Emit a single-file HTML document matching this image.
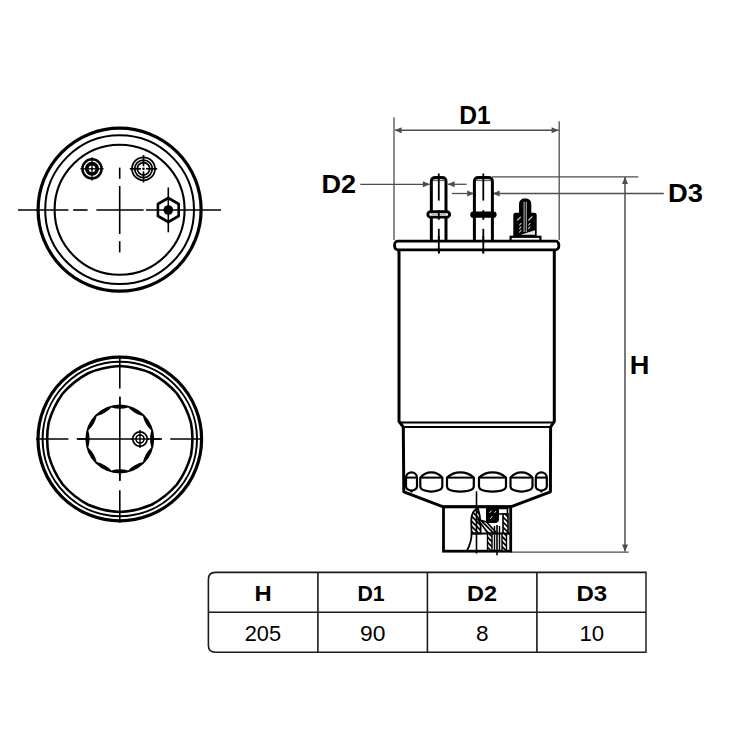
<!DOCTYPE html>
<html><head><meta charset="utf-8"><style>
html,body{margin:0;padding:0;background:#fff;}
svg{display:block;font-family:"Liberation Sans",sans-serif;}
</style></head><body>
<svg width="750" height="750" viewBox="0 0 750 750">
<rect width="750" height="750" fill="#fff"/>
<circle cx="119.60" cy="209.70" r="81.50" stroke="#000" stroke-width="3.2" fill="none"/>
<circle cx="119.60" cy="209.70" r="74.40" stroke="#000" stroke-width="2.0" fill="none"/>
<circle cx="119.60" cy="209.70" r="65.00" stroke="#000" stroke-width="2.1" fill="none"/>
<line x1="18.00" y1="210.00" x2="68.40" y2="210.00" stroke="#000" stroke-width="1.6" stroke-linecap="butt"/>
<line x1="73.20" y1="210.00" x2="87.60" y2="210.00" stroke="#000" stroke-width="1.6" stroke-linecap="butt"/>
<line x1="96.40" y1="210.00" x2="143.60" y2="210.00" stroke="#000" stroke-width="1.6" stroke-linecap="butt"/>
<line x1="146.00" y1="210.00" x2="221.00" y2="210.00" stroke="#000" stroke-width="1.6" stroke-linecap="butt"/>
<line x1="119.70" y1="167.60" x2="119.70" y2="178.80" stroke="#000" stroke-width="1.6" stroke-linecap="butt"/>
<line x1="119.70" y1="186.00" x2="119.70" y2="234.00" stroke="#000" stroke-width="1.6" stroke-linecap="butt"/>
<line x1="119.70" y1="241.20" x2="119.70" y2="252.40" stroke="#000" stroke-width="1.6" stroke-linecap="butt"/>
<circle cx="92.00" cy="168.80" r="9.60" stroke="#000" stroke-width="2.5" fill="none"/>
<circle cx="92.00" cy="168.80" r="5.20" stroke="#000" stroke-width="3.6" fill="none"/>
<circle cx="92.00" cy="168.80" r="1.10" fill="#000"/>
<line x1="92.00" y1="157.20" x2="92.00" y2="180.40" stroke="#000" stroke-width="1.3" stroke-linecap="butt"/>
<line x1="80.40" y1="168.80" x2="103.60" y2="168.80" stroke="#000" stroke-width="1.3" stroke-linecap="butt"/>
<circle cx="92.00" cy="168.80" r="1.10" fill="#000"/>
<circle cx="143.50" cy="168.80" r="11.50" stroke="#000" stroke-width="1.75" fill="none"/>
<circle cx="143.50" cy="168.80" r="8.80" stroke="#000" stroke-width="1.75" fill="none"/>
<circle cx="143.50" cy="168.80" r="6.20" stroke="#000" stroke-width="1.75" fill="none"/>
<circle cx="143.50" cy="168.80" r="1.30" fill="#000"/>
<line x1="143.50" y1="171.40" x2="143.50" y2="182.50" stroke="#000" stroke-width="1.7" stroke-linecap="butt"/>
<line x1="146.10" y1="168.80" x2="157.20" y2="168.80" stroke="#000" stroke-width="1.7" stroke-linecap="butt"/>
<line x1="143.50" y1="166.20" x2="143.50" y2="155.10" stroke="#000" stroke-width="1.7" stroke-linecap="butt"/>
<line x1="140.90" y1="168.80" x2="129.80" y2="168.80" stroke="#000" stroke-width="1.7" stroke-linecap="butt"/>
<path d="M168.30,198.00 L157.91,204.00 L157.91,216.00 L168.30,222.00 L178.69,216.00 L178.69,204.00 Z" stroke="#000" stroke-width="2.6" fill="none" stroke-linejoin="round"/>
<circle cx="168.30" cy="210.00" r="4.80" fill="#000"/>
<line x1="168.30" y1="187.50" x2="168.30" y2="232.30" stroke="#000" stroke-width="1.6" stroke-linecap="butt"/>
<circle cx="119.80" cy="439.00" r="81.80" stroke="#000" stroke-width="3.2" fill="none"/>
<circle cx="119.80" cy="439.00" r="77.20" stroke="#000" stroke-width="2.0" fill="none"/>
<path d="M119.80,366.00 A90,90 0 0 1 151.47,373.23 A90,90 0 0 1 176.87,393.49 A90,90 0 0 1 190.97,422.76 A90,90 0 0 1 190.97,455.24 A90,90 0 0 1 176.87,484.51 A90,90 0 0 1 151.47,504.77 A90,90 0 0 1 119.80,512.00 A90,90 0 0 1 88.13,504.77 A90,90 0 0 1 62.73,484.51 A90,90 0 0 1 48.63,455.24 A90,90 0 0 1 48.63,422.76 A90,90 0 0 1 62.73,393.49 A90,90 0 0 1 88.13,373.23 A90,90 0 0 1 119.80,366.00 Z" stroke="#000" stroke-width="2.6" fill="none" />
<line x1="36.00" y1="439.00" x2="68.40" y2="439.00" stroke="#000" stroke-width="1.6" stroke-linecap="butt"/>
<line x1="76.80" y1="439.00" x2="160.70" y2="439.00" stroke="#000" stroke-width="1.6" stroke-linecap="butt"/>
<line x1="170.30" y1="439.00" x2="202.70" y2="439.00" stroke="#000" stroke-width="1.6" stroke-linecap="butt"/>
<line x1="119.80" y1="357.00" x2="119.80" y2="388.40" stroke="#000" stroke-width="1.6" stroke-linecap="butt"/>
<line x1="119.80" y1="396.80" x2="119.80" y2="480.70" stroke="#000" stroke-width="1.6" stroke-linecap="butt"/>
<line x1="119.80" y1="490.30" x2="119.80" y2="522.70" stroke="#000" stroke-width="1.6" stroke-linecap="butt"/>
<circle cx="119.8" cy="439.0" r="34.4" fill="#000"/>
<path d="M128.24,407.51 A30,30 0 0 0 142.85,415.95 A30,30 0 0 0 151.29,430.56 A30,30 0 0 0 151.29,447.44 A30,30 0 0 0 142.85,462.05 A30,30 0 0 0 128.24,470.49 A30,30 0 0 0 111.36,470.49 A30,30 0 0 0 96.75,462.05 A30,30 0 0 0 88.31,447.44 A30,30 0 0 0 88.31,430.56 A30,30 0 0 0 96.75,415.95 A30,30 0 0 0 111.36,407.51 A30,30 0 0 0 128.24,407.51 Z" fill="#fff"/>
<line x1="77.30" y1="439.00" x2="162.00" y2="439.00" stroke="#000" stroke-width="1.6" stroke-linecap="butt"/>
<line x1="119.80" y1="396.80" x2="119.80" y2="480.70" stroke="#000" stroke-width="1.6" stroke-linecap="butt"/>
<circle cx="140" cy="439" r="7.6" fill="#fff"/>
<circle cx="140.00" cy="439.00" r="7.20" stroke="#000" stroke-width="1.7" fill="none"/>
<circle cx="140.00" cy="439.00" r="4.00" stroke="#000" stroke-width="1.6" fill="none"/>
<line x1="140.00" y1="430.00" x2="140.00" y2="448.00" stroke="#000" stroke-width="1.4" stroke-linecap="butt"/>
<line x1="131.00" y1="439.00" x2="149.00" y2="439.00" stroke="#000" stroke-width="1.4" stroke-linecap="butt"/>
<line x1="394.00" y1="117.20" x2="394.00" y2="240.00" stroke="#4d4d4d" stroke-width="1.3" stroke-linecap="butt"/>
<line x1="559.20" y1="121.20" x2="559.20" y2="240.00" stroke="#4d4d4d" stroke-width="1.3" stroke-linecap="butt"/>
<line x1="395.00" y1="130.20" x2="558.50" y2="130.20" stroke="#4d4d4d" stroke-width="1.4" stroke-linecap="butt"/>
<path d="M394.60,130.20 L401.60,127.20 L401.60,133.20 Z" fill="#4d4d4d"/>
<path d="M558.60,130.20 L551.60,133.20 L551.60,127.20 Z" fill="#4d4d4d"/>
<line x1="360.30" y1="184.30" x2="430.00" y2="184.30" stroke="#4d4d4d" stroke-width="1.3" stroke-linecap="butt"/>
<path d="M429.90,184.30 L422.90,187.30 L422.90,181.30 Z" fill="#4d4d4d"/>
<line x1="448.00" y1="184.30" x2="466.60" y2="184.30" stroke="#4d4d4d" stroke-width="1.3" stroke-linecap="butt"/>
<path d="M447.60,184.30 L454.60,181.30 L454.60,187.30 Z" fill="#4d4d4d"/>
<line x1="451.80" y1="193.50" x2="474.00" y2="193.50" stroke="#4d4d4d" stroke-width="1.3" stroke-linecap="butt"/>
<path d="M474.20,193.50 L467.20,196.50 L467.20,190.50 Z" fill="#4d4d4d"/>
<line x1="493.00" y1="193.50" x2="663.80" y2="193.50" stroke="#4d4d4d" stroke-width="1.3" stroke-linecap="butt"/>
<path d="M492.60,193.50 L499.60,190.50 L499.60,196.50 Z" fill="#4d4d4d"/>
<line x1="492.00" y1="176.80" x2="638.30" y2="176.80" stroke="#4d4d4d" stroke-width="1.3" stroke-linecap="butt"/>
<line x1="625.00" y1="177.00" x2="625.00" y2="551.50" stroke="#4d4d4d" stroke-width="1.5" stroke-linecap="butt"/>
<path d="M625.00,176.90 L628.00,183.90 L622.00,183.90 Z" fill="#4d4d4d"/>
<path d="M625.00,551.60 L622.00,544.60 L628.00,544.60 Z" fill="#4d4d4d"/>
<line x1="510.70" y1="552.10" x2="628.70" y2="552.10" stroke="#4d4d4d" stroke-width="1.4" stroke-linecap="butt"/>
<path d="M431.35,241 L431.35,181.7 Q431.35,177.5 435.55,177.5 L441.8,177.5 Q446.0,177.5 446.0,181.7 L446.0,241" stroke="#000" stroke-width="3.0" fill="none" />
<path d="M474.4,241 L474.4,181.7 Q474.4,177.5 478.59999999999997,177.5 L488.2,177.5 Q492.4,177.5 492.4,181.7 L492.4,241" stroke="#000" stroke-width="3.0" fill="none" />
<line x1="432.80" y1="180.40" x2="444.60" y2="180.40" stroke="#666" stroke-width="1.5" stroke-linecap="butt"/>
<line x1="476.00" y1="180.40" x2="490.80" y2="180.40" stroke="#666" stroke-width="1.5" stroke-linecap="butt"/>
<rect x="427.8" y="211.7" width="21.8" height="5.4" rx="2.7" fill="#fff" stroke="#000" stroke-width="2.9"/>
<line x1="431.35" y1="214.40" x2="446.00" y2="214.40" stroke="#bbb" stroke-width="1.2" stroke-linecap="butt"/>
<rect x="470.2" y="211.6" width="26.4" height="6.2" rx="3.1" fill="#000"/>
<line x1="438.80" y1="173.50" x2="438.80" y2="200.60" stroke="#000" stroke-width="1.8" stroke-linecap="butt"/>
<line x1="438.80" y1="210.20" x2="438.80" y2="219.80" stroke="#000" stroke-width="1.8" stroke-linecap="butt"/>
<line x1="438.80" y1="228.80" x2="438.80" y2="253.40" stroke="#000" stroke-width="1.8" stroke-linecap="butt"/>
<line x1="483.30" y1="173.50" x2="483.30" y2="200.60" stroke="#000" stroke-width="1.8" stroke-linecap="butt"/>
<line x1="483.30" y1="210.20" x2="483.30" y2="219.80" stroke="#000" stroke-width="1.8" stroke-linecap="butt"/>
<line x1="483.30" y1="228.80" x2="483.30" y2="253.40" stroke="#000" stroke-width="1.8" stroke-linecap="butt"/>
<rect x="394.6" y="241.2" width="164.2" height="8.6" rx="3.2" fill="#fff" stroke="#000" stroke-width="2.8"/>
<line x1="438.80" y1="236.00" x2="438.80" y2="253.40" stroke="#000" stroke-width="1.8" stroke-linecap="butt"/>
<line x1="483.30" y1="236.00" x2="483.30" y2="253.40" stroke="#000" stroke-width="1.8" stroke-linecap="butt"/>
<path d="M519,212.9 L519,204.5 C519,200.5 521.5,198.6 525.2,198.6 C528.9,198.6 531.3,200.5 531.3,204.5 L531.3,212.9 Z" stroke="#000" stroke-width="0" fill="#000" />
<path d="M513.3,215 Q513.3,212.7 515.6,212.7 L534.4,212.7 Q536.7,212.7 536.7,215 L536.7,236.8 L513.3,236.8 Z" stroke="#000" stroke-width="0" fill="#000" />
<rect x="510.6" y="236.8" width="29.8" height="4.0" fill="#fff" stroke="#000" stroke-width="2.2"/>
<line x1="524.10" y1="201.80" x2="524.10" y2="232.00" stroke="#b0b0b0" stroke-width="1.1" stroke-linecap="butt"/>
<line x1="526.30" y1="201.80" x2="526.30" y2="232.00" stroke="#b0b0b0" stroke-width="1.1" stroke-linecap="butt"/>
<line x1="517.20" y1="220.50" x2="520.80" y2="216.80" stroke="#d0d0d0" stroke-width="1.1" stroke-linecap="butt"/>
<line x1="528.30" y1="220.50" x2="532.30" y2="216.50" stroke="#d0d0d0" stroke-width="1.1" stroke-linecap="butt"/>
<line x1="519.30" y1="225.50" x2="521.30" y2="223.00" stroke="#d0d0d0" stroke-width="1.1" stroke-linecap="butt"/>
<line x1="519.30" y1="229.00" x2="521.30" y2="226.50" stroke="#d0d0d0" stroke-width="1.1" stroke-linecap="butt"/>
<line x1="519.30" y1="232.50" x2="521.30" y2="230.00" stroke="#d0d0d0" stroke-width="1.1" stroke-linecap="butt"/>
<line x1="528.30" y1="225.50" x2="530.30" y2="223.00" stroke="#d0d0d0" stroke-width="1.1" stroke-linecap="butt"/>
<line x1="528.30" y1="229.00" x2="530.30" y2="226.50" stroke="#d0d0d0" stroke-width="1.1" stroke-linecap="butt"/>
<path d="M520.5,234.8 L535,230.2 L535,234.8 Z" stroke="#000" stroke-width="0" fill="#e8e8e8" />
<path d="M399,249.8 L399,421.4 L403.3,427 L403.8,491.8 L443.3,506.8 L510.7,506.8 L550.4,491.8 L550.6,427 L554.3,421.4 L554.3,249.8" stroke="#000" stroke-width="3.0" fill="none" stroke-linejoin="round"/>
<line x1="399.00" y1="422.40" x2="554.30" y2="422.40" stroke="#000" stroke-width="2.0" stroke-linecap="butt"/>
<line x1="403.30" y1="426.90" x2="550.60" y2="426.90" stroke="#000" stroke-width="2.0" stroke-linecap="butt"/>
<path d="M406,477.6 A5.51,5.51 0 0 1 417,477.6 L417,486.4 C417,489.4 414,490.2 411,490.9 Q411.5,492.2 412,490.9 C409,490.2 406,489.4 406,486.4 Z" stroke="#000" stroke-width="2.2" fill="#fff" stroke-linejoin="round"/>
<line x1="406.00" y1="477.60" x2="417.00" y2="477.60" stroke="#000" stroke-width="2.0" stroke-linecap="butt"/>
<path d="M420.3,477.6 A14.23,14.23 0 0 1 442.3,477.6 L442.3,486.4 C442.3,489.4 439.3,490.2 436.3,490.9 Q431.3,492.2 426.3,490.9 C423.3,490.2 420.3,489.4 420.3,486.4 Z" stroke="#000" stroke-width="2.2" fill="#fff" stroke-linejoin="round"/>
<line x1="420.30" y1="477.60" x2="442.30" y2="477.60" stroke="#000" stroke-width="2.0" stroke-linecap="butt"/>
<path d="M447,477.6 A19.87,19.87 0 0 1 473.8,477.6 L473.8,486.4 C473.8,489.4 470.8,490.2 467.8,490.9 Q460.4,492.2 453,490.9 C450,490.2 447,489.4 447,486.4 Z" stroke="#000" stroke-width="2.2" fill="#fff" stroke-linejoin="round"/>
<line x1="447.00" y1="477.60" x2="473.80" y2="477.60" stroke="#000" stroke-width="2.0" stroke-linecap="butt"/>
<path d="M479,477.6 A20.12,20.12 0 0 1 506,477.6 L506,486.4 C506,489.4 503,490.2 500,490.9 Q492.5,492.2 485,490.9 C482,490.2 479,489.4 479,486.4 Z" stroke="#000" stroke-width="2.2" fill="#fff" stroke-linejoin="round"/>
<line x1="479.00" y1="477.60" x2="506.00" y2="477.60" stroke="#000" stroke-width="2.0" stroke-linecap="butt"/>
<path d="M510.5,477.6 A14.23,14.23 0 0 1 532.5,477.6 L532.5,486.4 C532.5,489.4 529.5,490.2 526.5,490.9 Q521.5,492.2 516.5,490.9 C513.5,490.2 510.5,489.4 510.5,486.4 Z" stroke="#000" stroke-width="2.2" fill="#fff" stroke-linejoin="round"/>
<line x1="510.50" y1="477.60" x2="532.50" y2="477.60" stroke="#000" stroke-width="2.0" stroke-linecap="butt"/>
<path d="M535.8,477.6 A5.51,5.51 0 0 1 546.8,477.6 L546.8,486.4 C546.8,489.4 543.8,490.2 540.8,490.9 Q541.3,492.2 541.8,490.9 C538.8,490.2 535.8,489.4 535.8,486.4 Z" stroke="#000" stroke-width="2.2" fill="#fff" stroke-linejoin="round"/>
<line x1="535.80" y1="477.60" x2="546.80" y2="477.60" stroke="#000" stroke-width="2.0" stroke-linecap="butt"/>
<rect x="443.5" y="506.9" width="67.2" height="44.3" fill="#fff" stroke="#000" stroke-width="2.8"/>
<defs><pattern id="hat" patternUnits="userSpaceOnUse" width="3.6" height="3.6" patternTransform="rotate(-45)"><rect width="3.6" height="3.6" fill="#fff"/><rect width="1.7" height="3.6" fill="#000"/></pattern></defs>
<path d="M478,508.6 C474,509.5 471.2,513 471.2,521 L471.6,533.5 L480.5,533.5 C481,525 480,515 478,508.6 Z" stroke="#000" stroke-width="1.8" fill="url(#hat)" />
<path d="M478,519.5 L486.5,522 L497,533.5 L488,533.5 Z" stroke="#000" stroke-width="1.6" fill="url(#hat)" />
<path d="M471.6,533.5 C471.6,541 469.5,546 466.8,551" stroke="#000" stroke-width="1.8" fill="none" />
<line x1="471.60" y1="533.50" x2="510.00" y2="533.50" stroke="#000" stroke-width="1.8" stroke-linecap="butt"/>
<path d="M486,508 L486,523 L495,523 Q499,523 499,519 L499,508 Z" stroke="#000" stroke-width="0" fill="#000" />
<line x1="489.50" y1="513.00" x2="491.50" y2="510.50" stroke="#fff" stroke-width="0.9" stroke-linecap="butt"/>
<line x1="490.00" y1="519.00" x2="492.50" y2="516.00" stroke="#fff" stroke-width="0.9" stroke-linecap="butt"/>
<line x1="494.50" y1="513.00" x2="496.00" y2="511.00" stroke="#fff" stroke-width="0.9" stroke-linecap="butt"/>
<path d="M498.5,508.5 L507.5,508.5 L507.5,514 L498.5,514" stroke="#000" stroke-width="1.6" fill="none" />
<path d="M503,514 L508,514 L508,533.5 L503,533.5 Z" stroke="#000" stroke-width="1.6" fill="url(#hat)" />
<path d="M487.5,533.5 L492,533.5 L492,551 L487.5,551 Z" stroke="#000" stroke-width="1.4" fill="url(#hat)" />
<path d="M502,533.5 L506.5,533.5 L506.5,551 L502,551 Z" stroke="#000" stroke-width="1.4" fill="url(#hat)" />
<line x1="494.50" y1="526.00" x2="494.50" y2="551.00" stroke="#000" stroke-width="1.4" stroke-linecap="butt"/>
<line x1="499.50" y1="526.00" x2="499.50" y2="551.00" stroke="#000" stroke-width="1.4" stroke-linecap="butt"/>
<line x1="476.50" y1="491.30" x2="476.50" y2="553.50" stroke="#000" stroke-width="1.6" stroke-linecap="butt"/>
<line x1="497.00" y1="525.00" x2="497.00" y2="555.30" stroke="#000" stroke-width="1.6" stroke-linecap="butt"/>
<path d="M646,652.2 L215.4,652.2 Q208.4,652.2 208.4,645.2 L208.4,579.4 Q208.4,572.4 215.4,572.4 L646,572.4" fill="none" stroke="#1a1a1a" stroke-width="1.6"/>
<line x1="646.00" y1="571.60" x2="646.00" y2="653.00" stroke="#3a3a3a" stroke-width="1.7" stroke-linecap="butt"/>
<line x1="208.40" y1="612.30" x2="646.00" y2="612.30" stroke="#1a1a1a" stroke-width="1.6" stroke-linecap="butt"/>
<line x1="317.90" y1="572.40" x2="317.90" y2="652.20" stroke="#1a1a1a" stroke-width="1.6" stroke-linecap="butt"/>
<line x1="427.40" y1="572.40" x2="427.40" y2="652.20" stroke="#1a1a1a" stroke-width="1.6" stroke-linecap="butt"/>
<line x1="536.90" y1="572.40" x2="536.90" y2="652.20" stroke="#1a1a1a" stroke-width="1.6" stroke-linecap="butt"/>
<text transform="translate(459.28,124.00) scale(0.2458,0.2565)" font-size="100" font-weight="bold" fill="#000">D1</text>
<text transform="translate(321.40,193.20) scale(0.2709,0.2557)" font-size="100" font-weight="bold" fill="#000">D2</text>
<text transform="translate(668.09,202.05) scale(0.2735,0.2535)" font-size="100" font-weight="bold" fill="#000">D3</text>
<text transform="translate(629.69,374.00) scale(0.2724,0.2580)" font-size="100" font-weight="bold" fill="#000">H</text>
<text transform="translate(254.53,600.70) scale(0.2379,0.2246)" font-size="100" font-weight="bold" fill="#000">H</text>
<text transform="translate(357.41,600.80) scale(0.2127,0.2275)" font-size="100" font-weight="bold" fill="#000">D1</text>
<text transform="translate(467.06,600.80) scale(0.2342,0.2271)" font-size="100" font-weight="bold" fill="#000">D2</text>
<text transform="translate(576.42,600.68) scale(0.2393,0.2225)" font-size="100" font-weight="bold" fill="#000">D3</text>
<text transform="translate(244.71,640.78) scale(0.2177,0.2239)" font-size="100" font-weight="normal" fill="#000">205</text>
<text transform="translate(359.96,640.67) scale(0.2284,0.2268)" font-size="100" font-weight="normal" fill="#000">90</text>
<text transform="translate(476.10,640.97) scale(0.2255,0.2282)" font-size="100" font-weight="normal" fill="#000">8</text>
<text transform="translate(579.52,640.68) scale(0.2222,0.2239)" font-size="100" font-weight="normal" fill="#000">10</text>
</svg>
</body></html>
